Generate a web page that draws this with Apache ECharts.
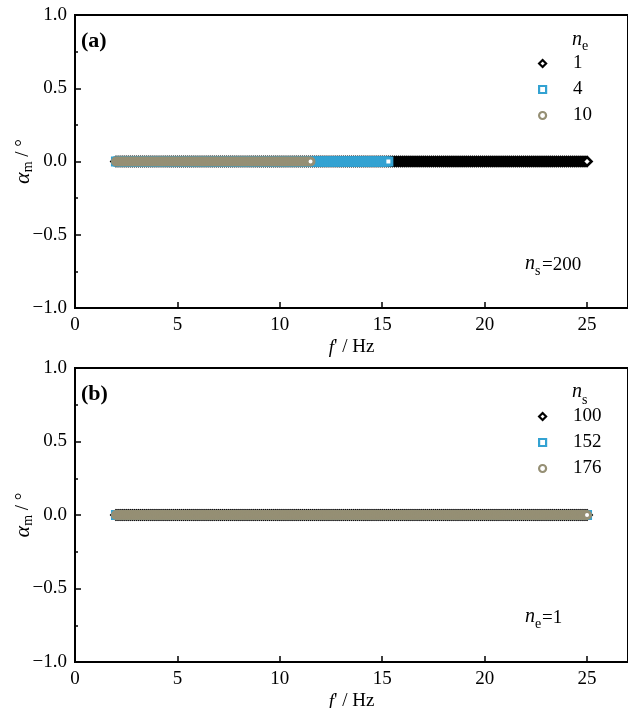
<!DOCTYPE html>
<html>
<head>
<meta charset="utf-8">
<script src="https://cdn.jsdelivr.net/npm/echarts@6/dist/echarts.min.js"></script>
<style>
html,body{margin:0;padding:0;background:#fff;}
#chart{width:628px;height:708px;}
</style>
</head>
<body>
<div id="chart"></div>
<script>
// Frequency grid f' (Hz)
const fHz = [
2.0,2.1,2.2,2.3,2.4,2.5,2.6,2.7,2.8,2.9,
3.0,3.1,3.2,3.3,3.4,3.5,3.6,3.7,3.8,3.9,
4.0,4.1,4.2,4.3,4.4,4.5,4.6,4.7,4.8,4.9,
5.0,5.1,5.2,5.3,5.4,5.5,5.6,5.7,5.8,5.9,
6.0,6.1,6.2,6.3,6.4,6.5,6.6,6.7,6.8,6.9,
7.0,7.1,7.2,7.3,7.4,7.5,7.6,7.7,7.8,7.9,
8.0,8.1,8.2,8.3,8.4,8.5,8.6,8.7,8.8,8.9,
9.0,9.1,9.2,9.3,9.4,9.5,9.6,9.7,9.8,9.9,
10.0,10.1,10.2,10.3,10.4,10.5,10.6,10.7,10.8,10.9,
11.0,11.1,11.2,11.3,11.4,11.5,11.6,11.7,11.8,11.9,
12.0,12.1,12.2,12.3,12.4,12.5,12.6,12.7,12.8,12.9,
13.0,13.1,13.2,13.3,13.4,13.5,13.6,13.7,13.8,13.9,
14.0,14.1,14.2,14.3,14.4,14.5,14.6,14.7,14.8,14.9,
15.0,15.1,15.2,15.3,15.4,15.5,15.6,15.7,15.8,15.9,
16.0,16.1,16.2,16.3,16.4,16.5,16.6,16.7,16.8,16.9,
17.0,17.1,17.2,17.3,17.4,17.5,17.6,17.7,17.8,17.9,
18.0,18.1,18.2,18.3,18.4,18.5,18.6,18.7,18.8,18.9,
19.0,19.1,19.2,19.3,19.4,19.5,19.6,19.7,19.8,19.9,
20.0,20.1,20.2,20.3,20.4,20.5,20.6,20.7,20.8,20.9,
21.0,21.1,21.2,21.3,21.4,21.5,21.6,21.7,21.8,21.9,
22.0,22.1,22.2,22.3,22.4,22.5,22.6,22.7,22.8,22.9,
23.0,23.1,23.2,23.3,23.4,23.5,23.6,23.7,23.8,23.9,
24.0,24.1,24.2,24.3,24.4,24.5,24.6,24.7,24.8,24.9,
25.0
];

// Panel (a): n_s = 200, alpha_m values (deg) for n_e = 1, 4, 10
const alphaNe1 = [
0,0,0,0,0,0,0,0,0,0, 0,0,0,0,0,0,0,0,0,0, 0,0,0,0,0,0,0,0,0,0, 0,0,0,0,0,0,0,0,0,0,
0,0,0,0,0,0,0,0,0,0, 0,0,0,0,0,0,0,0,0,0, 0,0,0,0,0,0,0,0,0,0, 0,0,0,0,0,0,0,0,0,0,
0,0,0,0,0,0,0,0,0,0, 0,0,0,0,0,0,0,0,0,0, 0,0,0,0,0,0,0,0,0,0, 0,0,0,0,0,0,0,0,0,0,
0,0,0,0,0,0,0,0,0,0, 0,0,0,0,0,0,0,0,0,0, 0,0,0,0,0,0,0,0,0,0, 0,0,0,0,0,0,0,0,0,0,
0,0,0,0,0,0,0,0,0,0, 0,0,0,0,0,0,0,0,0,0, 0,0,0,0,0,0,0,0,0,0, 0,0,0,0,0,0,0,0,0,0,
0,0,0,0,0,0,0,0,0,0, 0,0,0,0,0,0,0,0,0,0, 0,0,0,0,0,0,0,0,0,0,
0
];
const alphaNe4 = [
0,0,0,0,0,0,0,0,0,0, 0,0,0,0,0,0,0,0,0,0, 0,0,0,0,0,0,0,0,0,0, 0,0,0,0,0,0,0,0,0,0,
0,0,0,0,0,0,0,0,0,0, 0,0,0,0,0,0,0,0,0,0, 0,0,0,0,0,0,0,0,0,0, 0,0,0,0,0,0,0,0,0,0,
0,0,0,0,0,0,0,0,0,0, 0,0,0,0,0,0,0,0,0,0, 0,0,0,0,0,0,0,0,0,0, 0,0,0,0,0,0,0,0,0,0,
0,0,0,0,0,0,0,0,0,0,
0,0,0,0
];
const alphaNe10 = [
0,0,0,0,0,0,0,0,0,0, 0,0,0,0,0,0,0,0,0,0, 0,0,0,0,0,0,0,0,0,0, 0,0,0,0,0,0,0,0,0,0,
0,0,0,0,0,0,0,0,0,0, 0,0,0,0,0,0,0,0,0,0, 0,0,0,0,0,0,0,0,0,0, 0,0,0,0,0,0,0,0,0,0,
0,0,0,0,0,0,0,0,0,0,
0,0,0,0,0,0
];

// Panel (b): n_e = 1, alpha_m values (deg) for n_s = 100, 152, 176
const alphaNs100 = [
0,0,0,0,0,0,0,0,0,0, 0,0,0,0,0,0,0,0,0,0, 0,0,0,0,0,0,0,0,0,0, 0,0,0,0,0,0,0,0,0,0,
0,0,0,0,0,0,0,0,0,0, 0,0,0,0,0,0,0,0,0,0, 0,0,0,0,0,0,0,0,0,0, 0,0,0,0,0,0,0,0,0,0,
0,0,0,0,0,0,0,0,0,0, 0,0,0,0,0,0,0,0,0,0, 0,0,0,0,0,0,0,0,0,0, 0,0,0,0,0,0,0,0,0,0,
0,0,0,0,0,0,0,0,0,0, 0,0,0,0,0,0,0,0,0,0, 0,0,0,0,0,0,0,0,0,0, 0,0,0,0,0,0,0,0,0,0,
0,0,0,0,0,0,0,0,0,0, 0,0,0,0,0,0,0,0,0,0, 0,0,0,0,0,0,0,0,0,0, 0,0,0,0,0,0,0,0,0,0,
0,0,0,0,0,0,0,0,0,0, 0,0,0,0,0,0,0,0,0,0, 0,0,0,0,0,0,0,0,0,0,
0
];
const alphaNs152 = [
0,0,0,0,0,0,0,0,0,0, 0,0,0,0,0,0,0,0,0,0, 0,0,0,0,0,0,0,0,0,0, 0,0,0,0,0,0,0,0,0,0,
0,0,0,0,0,0,0,0,0,0, 0,0,0,0,0,0,0,0,0,0, 0,0,0,0,0,0,0,0,0,0, 0,0,0,0,0,0,0,0,0,0,
0,0,0,0,0,0,0,0,0,0, 0,0,0,0,0,0,0,0,0,0, 0,0,0,0,0,0,0,0,0,0, 0,0,0,0,0,0,0,0,0,0,
0,0,0,0,0,0,0,0,0,0, 0,0,0,0,0,0,0,0,0,0, 0,0,0,0,0,0,0,0,0,0, 0,0,0,0,0,0,0,0,0,0,
0,0,0,0,0,0,0,0,0,0, 0,0,0,0,0,0,0,0,0,0, 0,0,0,0,0,0,0,0,0,0, 0,0,0,0,0,0,0,0,0,0,
0,0,0,0,0,0,0,0,0,0, 0,0,0,0,0,0,0,0,0,0, 0,0,0,0,0,0,0,0,0,0,
0
];
const alphaNs176 = [
0,0,0,0,0,0,0,0,0,0, 0,0,0,0,0,0,0,0,0,0, 0,0,0,0,0,0,0,0,0,0, 0,0,0,0,0,0,0,0,0,0,
0,0,0,0,0,0,0,0,0,0, 0,0,0,0,0,0,0,0,0,0, 0,0,0,0,0,0,0,0,0,0, 0,0,0,0,0,0,0,0,0,0,
0,0,0,0,0,0,0,0,0,0, 0,0,0,0,0,0,0,0,0,0, 0,0,0,0,0,0,0,0,0,0, 0,0,0,0,0,0,0,0,0,0,
0,0,0,0,0,0,0,0,0,0, 0,0,0,0,0,0,0,0,0,0, 0,0,0,0,0,0,0,0,0,0, 0,0,0,0,0,0,0,0,0,0,
0,0,0,0,0,0,0,0,0,0, 0,0,0,0,0,0,0,0,0,0, 0,0,0,0,0,0,0,0,0,0, 0,0,0,0,0,0,0,0,0,0,
0,0,0,0,0,0,0,0,0,0, 0,0,0,0,0,0,0,0,0,0, 0,0,0,0,0,0,0,0,0,0,
0
];

const namesA = ['1', '4', '10'];
const namesB = ['100', '152', '176'];
const xTicks = [0, 5, 10, 15, 20, 25];
const yTickLabels = {'1.0':'1.0','0.5':'0.5','0.0':'0.0','-0.5':'\u22120.5','-1.0':'\u22121.0'};

const FONT = '"Liberation Serif", "Times New Roman", serif';
const styles = [
  {symbol: 'diamond', size: 9, border: '#000000', bw: 2.6},
  {symbol: 'rect', size: 7, border: '#33a2d2', bw: 3},
  {symbol: 'circle', size: 7, border: '#958f74', bw: 3}
];

function pairs(alpha) { return alpha.map((a, i) => [fHz[i], a]); }

const grids = [
  {left: 75, top: 15, width: 553, height: 293},
  {left: 75, top: 368, width: 553, height: 294}
];

const xAxes = [], yAxes = [], series = [];
grids.forEach((g, gi) => {
  xAxes.push({
    type: 'value', gridIndex: gi, min: 0, max: 27, interval: 5,
    name: "{i|f}{n|' / Hz}", nameLocation: 'middle', nameGap: 30, nameMoveOverlap: false,
    nameTextStyle: {rich: {
      i: {fontFamily: FONT, fontSize: 19, fontStyle: 'italic', color: '#000'},
      n: {fontFamily: FONT, fontSize: 19, color: '#000'}
    }},
    axisLine: {show: true, onZero: false, lineStyle: {color: '#000', width: 2}},
    axisTick: {show: true, inside: true, length: 6, lineStyle: {color: '#000', width: 1.5}},
    axisLabel: {show: true, margin: 8, fontFamily: FONT, fontSize: 19, color: '#000', showMaxLabel: false,
      formatter: v => xTicks.indexOf(v) >= 0 ? String(v) : ''},
    splitLine: {show: false}
  });
  // minor x ticks
  xAxes.push({
    type: 'value', gridIndex: gi, min: 0, max: 27, interval: 2.5,
    axisLine: {show: false},
    axisTick: {show: true, inside: true, length: 3, lineStyle: {color: '#000', width: 1.5}},
    axisLabel: {show: false}, splitLine: {show: false}
  });
  yAxes.push({
    type: 'value', gridIndex: gi, min: -1, max: 1, interval: 0.5,
    name: '{a|\u03B1}{s|m}{t| / \u00B0}', nameLocation: 'middle', nameGap: 40, nameRotate: 90,
    nameMoveOverlap: false,
    nameTextStyle: {rich: {
      a: {fontFamily: FONT, fontSize: 22, fontStyle: 'italic', color: '#000', lineHeight: 24, verticalAlign: 'middle'},
      s: {fontFamily: FONT, fontSize: 14, color: '#000', verticalAlign: 'bottom'},
      t: {fontFamily: FONT, fontSize: 19, color: '#000', verticalAlign: 'middle'}
    }},
    axisLine: {show: true, onZero: false, lineStyle: {color: '#000', width: 2}},
    axisTick: {show: true, inside: true, length: 6, lineStyle: {color: '#000', width: 1.5}},
    minorTick: {show: true, splitNumber: 2, length: 3, lineStyle: {color: '#000', width: 1.5}},
    axisLabel: {margin: 8, fontFamily: FONT, fontSize: 19, color: '#000',
      formatter: v => yTickLabels[v.toFixed(1)] || ''},
    splitLine: {show: false}
  });
});

const dataA = [alphaNe1, alphaNe4, alphaNe10];
const dataB = [alphaNs100, alphaNs152, alphaNs176];
[[namesA, dataA], [namesB, dataB]].forEach(([names, datas], gi) => {
  names.forEach((nm, k) => {
    const s = styles[k];
    series.push({
      type: 'scatter', name: nm, xAxisIndex: gi * 2, yAxisIndex: gi,
      symbol: s.symbol, symbolSize: s.size,
      itemStyle: {color: '#ffffff', borderColor: s.border, borderWidth: s.bw, opacity: 1},
      emphasis: {disabled: true},
      animation: false,
      data: pairs(datas[k])
    });
  });
});

const legendBase = {
  orient: 'vertical', left: 538, padding: 0, itemWidth: 7, itemHeight: 7, itemGap: 7,
  selectedMode: false,
  itemStyle: {borderWidth: 2.2},
  textStyle: {fontFamily: FONT, fontSize: 19, color: '#000', lineHeight: 18, padding: [0, 0, 0, 22]}
};

function txt(x, y, text, font) {
  return {type: 'text', x: x, y: y, style: {text: text, font: font, fill: '#000', textVerticalAlign: 'middle'}};
}
const graphics = [];
[0, 353].forEach((dy, gi) => {
  graphics.push(txt(81, 41 + dy, gi === 0 ? '(a)' : '(b)', 'bold 22px ' + FONT));
  // legend header
  graphics.push(txt(572, 40 + dy + (gi ? -1 : 0), 'n', 'italic 20px ' + FONT));
  graphics.push(txt(582, 46 + dy + (gi ? 1 : 0), gi === 0 ? 'e' : 's', '14px ' + FONT));
  // annotation
  graphics.push(txt(525, 264 + dy, 'n', 'italic 20px ' + FONT));
  graphics.push(txt(535, 271 + dy, gi === 0 ? 's' : 'e', '14px ' + FONT));
  graphics.push(txt(542, 265 + dy, gi === 0 ? '=200' : '=1', '19px ' + FONT));
});

const chart = echarts.init(document.getElementById('chart'), null, {renderer: 'canvas'});
chart.setOption({
  backgroundColor: '#ffffff',
  animation: false,
  grid: grids.map(g => Object.assign({show: true, borderColor: '#000', borderWidth: 2, backgroundColor: 'transparent', containLabel: false, outerBoundsMode: 'none'}, g)),
  xAxis: xAxes,
  yAxis: yAxes,
  legend: [
    Object.assign({}, legendBase, {top: 54, data: namesA}),
    Object.assign({}, legendBase, {top: 407, data: namesB})
  ],
  graphic: graphics,
  series: series
});
</script>
</body>
</html>
